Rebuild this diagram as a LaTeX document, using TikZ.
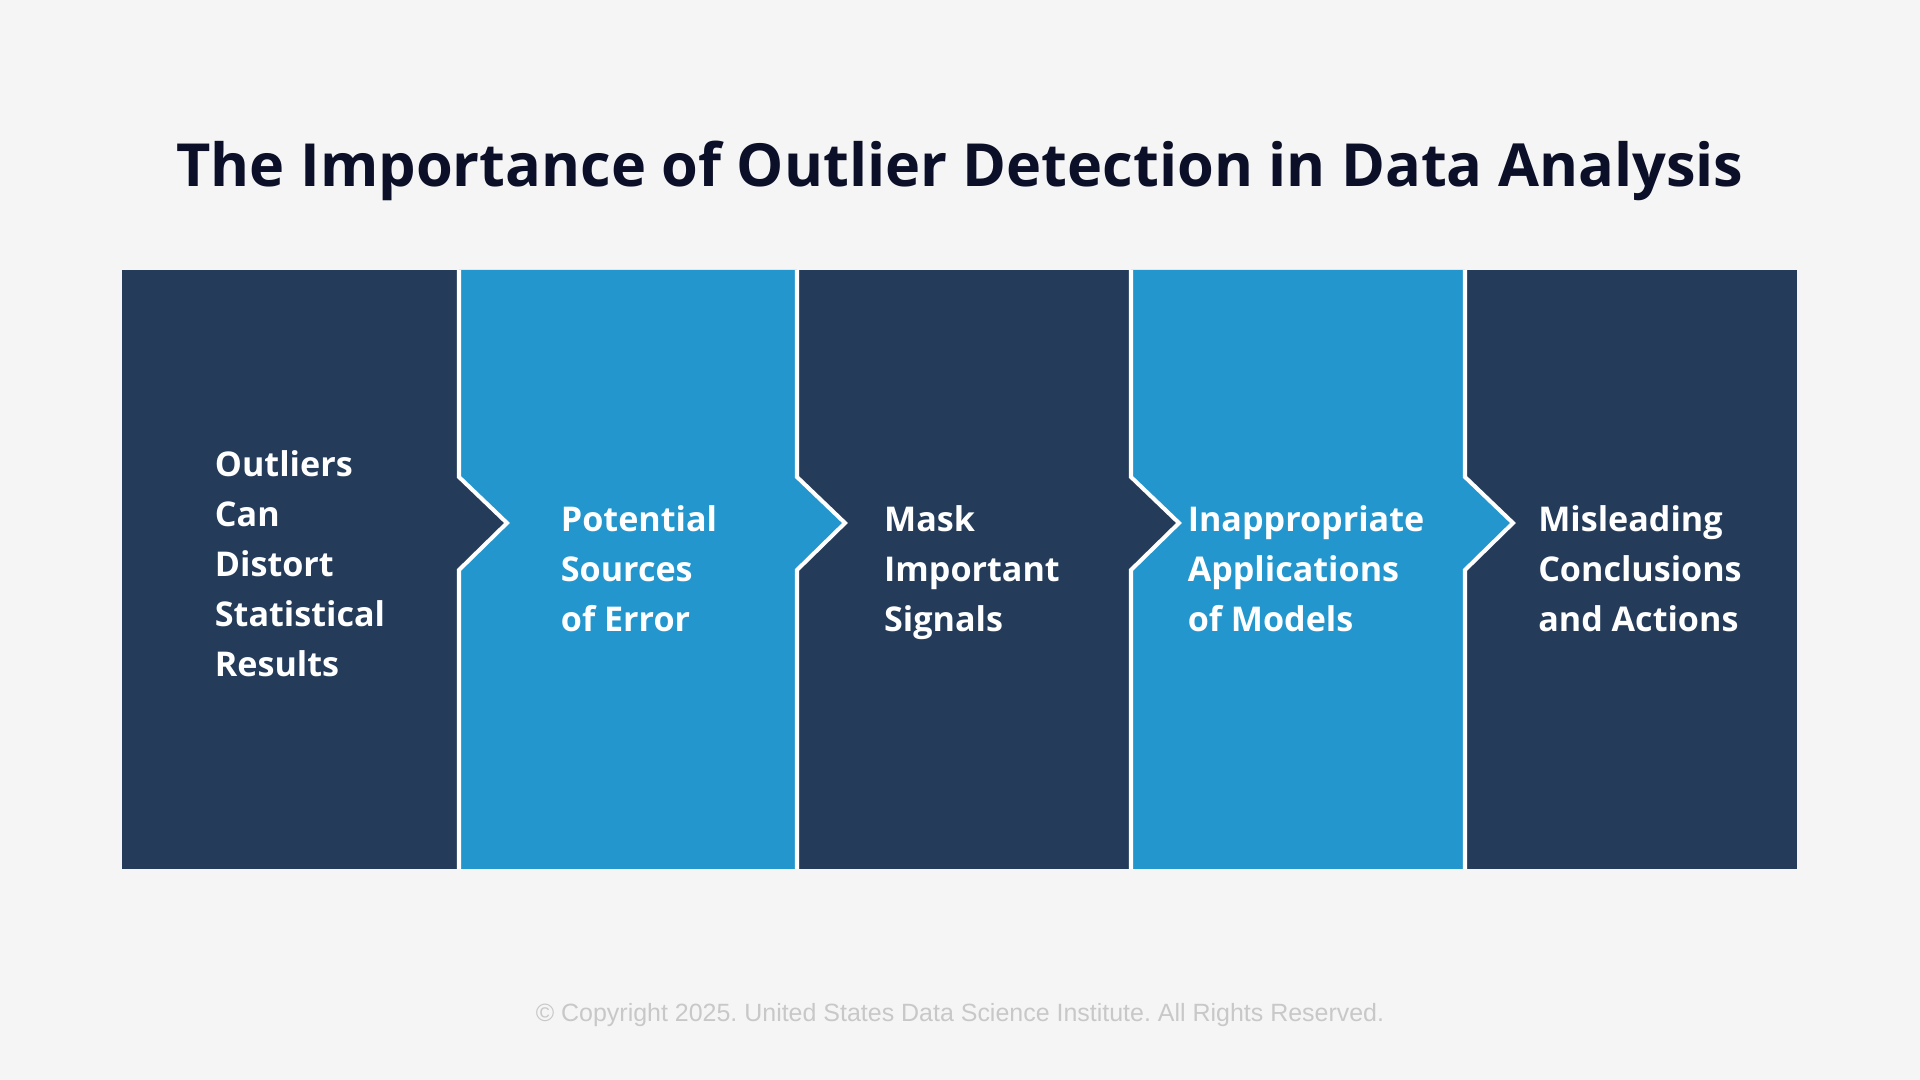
\documentclass[tikz,border=0pt]{standalone}
\usepackage{fontspec}
\setmainfont{Open Sans}
\newfontfamily\copyfont{Liberation Sans}
\definecolor{navy}{HTML}{243C5A}
\definecolor{sky}{HTML}{2396CD}
\definecolor{ink}{HTML}{0B1028}
\definecolor{bg}{HTML}{F5F5F5}
\definecolor{faint}{HTML}{C8C8C8}
\frenchspacing

\begin{document}
\begin{tikzpicture}[x=0.01cm, y=-0.01cm,
		lbl/.style={text=white, inner sep=0pt, align=left, font=\bfseries\fontsize{9.7}{14.2}\selectfont},
		sep/.style={draw=white, line width=1.15pt}]
		\fill[bg] (0,0) rectangle (1920,1080);

		\node[anchor=base, text=ink, font=\bfseries\fontsize{16.9}{21}\selectfont] (t) at (960,187) {The Importance of Outlier Detection in Data Analysis};

		% dark strip, blue panels on top
		\fill[navy] (122,270) rectangle (1797,869);
		\fill[sky] (459,270) -- (797,270) -- (797,477) -- (845,523) -- (797,570) -- (797,869)
			-- (459,869) -- (459,570) -- (507,523) -- (459,477) -- cycle;
		\fill[sky] (1131,270) -- (1465,270) -- (1465,477) -- (1513,523) -- (1465,570) -- (1465,869)
			-- (1131,869) -- (1131,570) -- (1179,523) -- (1131,477) -- cycle;

		\draw[sep] (459,270) -- (459,477) -- (507,523) -- (459,570) -- (459,869);
		\draw[sep] (797,270) -- (797,477) -- (845,523) -- (797,570) -- (797,869);
		\draw[sep] (1131,270) -- (1131,477) -- (1179,523) -- (1131,570) -- (1131,869);
		\draw[sep] (1465,270) -- (1465,477) -- (1513,523) -- (1465,570) -- (1465,869);

		\node[lbl] (p1) at (300,564) {Outliers\\Can\\Distort\\Statistical\\Results};
		\node[lbl] (p2) at (639,569) {Potential\\Sources\\of Error};
		\node[lbl] (p3) at (972,573) {Mask\\Important\\Signals};
		\node[lbl] (p4) at (1306,569) {Inappropriate\\Applications\\of Models};
		\node[lbl] (p5) at (1640,569) {Misleading\\Conclusions\\and Actions};

		\node[anchor=base, text=faint, font=\copyfont\fontsize{7.1}{8}\selectfont] (c) at (960,1022) {© Copyright 2025. United States Data Science Institute. All Rights Reserved.};
	\end{tikzpicture}
\end{document}
